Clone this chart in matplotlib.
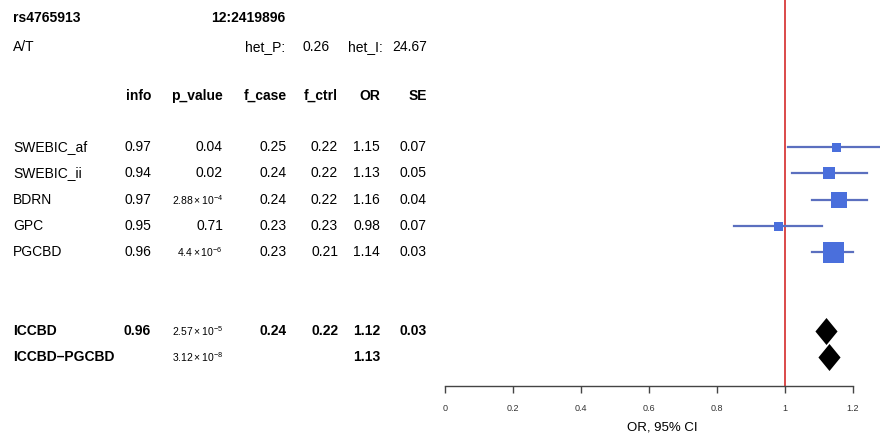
import matplotlib
matplotlib.use("Agg")
import matplotlib.pyplot as plt
from matplotlib.path import Path

plt.rcParams["font.family"] = ["Liberation Sans", "DejaVu Sans"]
plt.rcParams["mathtext.fontset"] = "custom"
plt.rcParams["mathtext.rm"] = "Liberation Sans"
plt.rcParams["mathtext.it"] = "Liberation Sans"

# -----------------------------
# data
# -----------------------------
snp = "rs4765913"
position = "12:2419896"
alleles = "A/T"
het_p = 0.26
het_i = 24.67

studies = ["SWEBIC_af", "SWEBIC_ii", "BDRN", "GPC", "PGCBD"]
info = [0.97, 0.94, 0.97, 0.95, 0.96]
p_value = ["0.04", "0.02", r"$2.88\times10^{-4}$", "0.71", r"$4.4\times10^{-6}$"]
f_case = [0.25, 0.24, 0.24, 0.23, 0.23]
f_ctrl = [0.22, 0.22, 0.22, 0.23, 0.21]
odds = [1.15, 1.13, 1.16, 0.98, 1.14]
se = [0.07, 0.05, 0.04, 0.07, 0.03]
ci_low = [1.01, 1.02, 1.08, 0.85, 1.08]
ci_high = [1.32, 1.24, 1.24, 1.11, 1.20]

meta_names = ["ICCBD", "ICCBD\u2013PGCBD"]
meta_info = ["0.96", ""]
meta_p = [r"$2.57\times10^{-5}$", r"$3.12\times10^{-8}$"]
meta_case = ["0.24", ""]
meta_ctrl = ["0.22", ""]
meta_or = [1.12, 1.13]
meta_se = ["0.03", ""]

headers = ["info", "p_value", "f_case", "f_ctrl", "OR", "SE"]
ticks = [0, 0.2, 0.4, 0.6, 0.8, 1, 1.2]

# -----------------------------
# layout (pixels of a 880x444 figure)
# -----------------------------
W, H = 880, 444
row0_px, row_h = 147, 26.3
study_rows = [0, 1, 2, 3, 4]
meta_rows = [7, 8]
col_right = [151, 223, 287, 338, 380, 427]
axis_px = 386
x0_px, px_per_unit = 445, 340
fs = 10
fs_sci = 7.5

fig = plt.figure(figsize=(W / 100, H / 100), dpi=100)

# text panel over the whole figure, rows on y
tx = fig.add_axes([0, 0, 1, 1])
tx.set_xlim(0, W)
tx.set_ylim((H - row0_px) / row_h, -row0_px / row_h)
tx.axis("off")

def row_of(px):
    return (px - row0_px) / row_h

tx.text(13, row_of(18), snp, fontsize=fs, fontweight="bold", va="center")
tx.text(248, row_of(18), position, fontsize=fs, fontweight="bold", va="center", ha="center")
tx.text(13, row_of(47), alleles, fontsize=fs, va="center")
tx.text(285, row_of(47), "het_P:", fontsize=fs, va="center", ha="right")
tx.text(330, row_of(47), f"{het_p:.2f}", fontsize=fs, va="center", ha="right")
tx.text(383, row_of(47), "het_I:", fontsize=fs, va="center", ha="right")
tx.text(427, row_of(47), f"{het_i:.2f}", fontsize=fs, va="center", ha="right")

for h, xr in zip(headers, col_right):
    tx.text(xr, row_of(96), h, fontsize=fs, fontweight="bold", va="center", ha="right")

for i, r in enumerate(study_rows):
    tx.text(13, r, studies[i], fontsize=fs, va="center")
    vals = [f"{info[i]:.2f}", p_value[i], f"{f_case[i]:.2f}", f"{f_ctrl[i]:.2f}",
            f"{odds[i]:.2f}", f"{se[i]:.2f}"]
    for v, xr in zip(vals, col_right):
        tx.text(xr, r, v, fontsize=fs_sci if v.startswith("$") else fs,
                va="center", ha="right")

for i, r in enumerate(meta_rows):
    tx.text(13, r, meta_names[i], fontsize=fs, fontweight="bold", va="center")
    vals = [meta_info[i], meta_p[i], meta_case[i], meta_ctrl[i],
            f"{meta_or[i]:.2f}", meta_se[i]]
    for v, xr in zip(vals, col_right):
        if v.startswith("$"):
            tx.text(xr, r, v, fontsize=fs_sci, va="center", ha="right")
        else:
            tx.text(xr, r, v, fontsize=fs, fontweight="bold", va="center", ha="right")

# -----------------------------
# forest panel
# -----------------------------
ax = fig.add_axes([x0_px / W, (H - axis_px) / H, 1 - x0_px / W, axis_px / H])
ax.set_xlim(0, (W - x0_px) / px_per_unit)
ax.set_ylim(row_of(axis_px), row_of(0))
ax.patch.set_alpha(0)
for s in ["top", "right", "left"]:
    ax.spines[s].set_visible(False)
ax.spines["bottom"].set_bounds(0, 1.2)
ax.spines["bottom"].set_color("#444444")
ax.spines["bottom"].set_linewidth(1.0)
ax.set_yticks([])
ax.set_xticks(ticks)
ax.set_xticklabels([f"{t:g}" for t in ticks], fontsize=6.5, color="#333333")
ax.tick_params(axis="x", length=5, width=1.0, color="#444444", pad=8)
ax.set_xlabel("OR, 95% CI", fontsize=9.5, labelpad=6)

ax.axvline(1, color="#d42a2a", linewidth=1.2, zorder=1)

box_max_px = 21
for i, r in enumerate(study_rows):
    ax.plot([ci_low[i], ci_high[i]], [r, r], color="#5b6fbf", linewidth=1.6,
            zorder=2, clip_on=False)
    size_pt = box_max_px * min(se) / se[i] * 0.72
    ax.plot(odds[i], r, marker="s", markersize=size_pt, color="#4a6fdc",
            markeredgewidth=0, zorder=3, clip_on=False)

diamond = Path([(0, 1), (0.82, 0), (0, -1), (-0.82, 0), (0, 1)],
               [Path.MOVETO, Path.LINETO, Path.LINETO, Path.LINETO, Path.CLOSEPOLY])
for i, r in enumerate(meta_rows):
    ax.plot(meta_or[i], r, marker=diamond, markersize=27 * 0.72, color="black",
            markeredgewidth=0, zorder=3)

fig.savefig("out.png", dpi=100)
